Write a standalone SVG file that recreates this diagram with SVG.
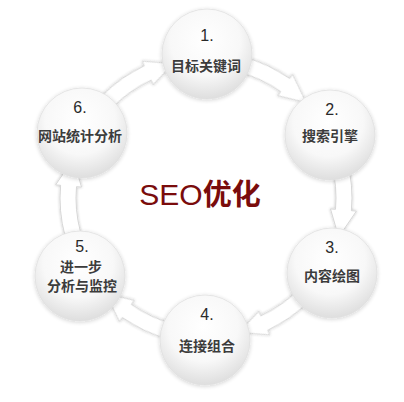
<svg xmlns="http://www.w3.org/2000/svg" width="404" height="402" viewBox="0 0 404 402">
<style>
.num{font-family:"Liberation Sans",Arial,sans-serif;font-size:16px;fill:#2a2a2a;text-anchor:middle}
.lbl{font-family:"Noto Sans CJK SC","Liberation Sans",sans-serif;font-size:14px;font-weight:bold;fill:#3c3c3c;text-anchor:middle}
.ball{fill:url(#g);stroke:#e0e0e0;stroke-width:0.8;filter:url(#sh)}
.arr{fill:#ffffff;stroke:#d4d4d4;stroke-width:0.9;filter:url(#ash)}
</style>
<defs>
<radialGradient id="g" cx="48%" cy="35%" r="65%">
<stop offset="0" stop-color="#ffffff"/>
<stop offset="0.6" stop-color="#f8f8f8"/>
<stop offset="1" stop-color="#dedede"/>
</radialGradient>
<filter id="sh" x="-20%" y="-20%" width="140%" height="140%">
<feGaussianBlur in="SourceAlpha" stdDeviation="2"/>
<feOffset dx="0" dy="1"/>
<feComponentTransfer><feFuncA type="linear" slope="0.18"/></feComponentTransfer>
<feMerge><feMergeNode/><feMergeNode in="SourceGraphic"/></feMerge>
</filter>
<filter id="ash" x="-30%" y="-30%" width="160%" height="160%">
<feGaussianBlur in="SourceAlpha" stdDeviation="1.6"/>
<feComponentTransfer><feFuncA type="linear" slope="0.25"/></feComponentTransfer>
<feMerge><feMergeNode/><feMergeNode in="SourceGraphic"/></feMerge>
</filter>
<path id="a" d="M347,160.2 A146,146 0 0 1 351.4,210.7 L356.4,211.1 L338.7,237 L330.5,208.9 L335.5,209.3 A130,130 0 0 0 331.6,164.4 Z"/>
</defs>
<rect width="404" height="402" fill="#ffffff"/>
<g id="connectors">
<use href="#a" class="arr"/>
<use href="#a" class="arr" transform="rotate(60 206 198)"/>
<use href="#a" class="arr" transform="rotate(120 206 198)"/>
<use href="#a" class="arr" transform="rotate(180 206 198)"/>
<use href="#a" class="arr" transform="rotate(240 206 198)"/>
<use href="#a" class="arr" transform="rotate(300 206 198)"/>
</g>
<g id="n1"><circle class="ball" cx="207" cy="54" r="45"/><text class="num" x="207" y="41">1.</text><text class="lbl" x="206" y="71">目标关键词</text></g>
<g id="n2"><circle class="ball" cx="330" cy="135" r="45"/><text class="num" x="332" y="115">2.</text><text class="lbl" x="330" y="141">搜索引擎</text></g>
<g id="n3"><circle class="ball" cx="332" cy="273" r="45"/><text class="num" x="332" y="253">3.</text><text class="lbl" x="332" y="281">内容绘图</text></g>
<g id="n4"><circle class="ball" cx="205" cy="340" r="45"/><text class="num" x="207" y="320">4.</text><text class="lbl" x="207" y="351">连接组合</text></g>
<g id="n5"><circle class="ball" cx="80" cy="276" r="45"/><text class="num" x="82" y="252">5.</text><text class="lbl" x="81" y="272">进一步</text><text class="lbl" x="82" y="291">分析与监控</text></g>
<g id="n6"><circle class="ball" cx="82" cy="133" r="45"/><text class="num" x="80" y="113">6.</text><text class="lbl" x="80" y="141">网站统计分析</text></g>
<g id="title"><text x="200" y="205" text-anchor="middle" font-family="'Liberation Sans','Noto Sans CJK SC',sans-serif" font-size="30" fill="#7a0c0c">SEO<tspan font-family="'Noto Sans CJK SC',sans-serif" font-weight="bold" font-size="29">优化</tspan></text></g>
</svg>
